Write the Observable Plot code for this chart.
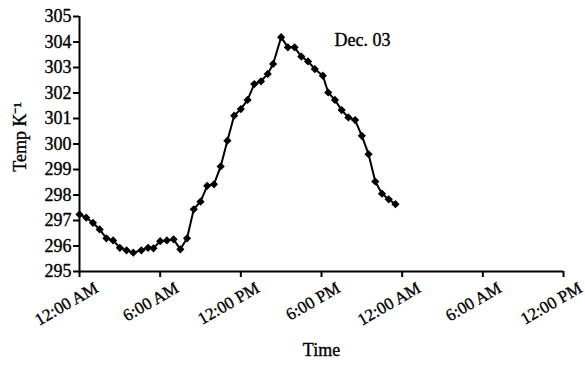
<!DOCTYPE html>
<html>
<head>
<meta charset="utf-8">
<script src="https://cdn.jsdelivr.net/npm/d3@7"></script>
<script src="https://cdn.jsdelivr.net/npm/@observablehq/plot@0.6"></script>
<style>
  html, body { margin: 0; padding: 0; background: #fff; }
  #chart { width: 585px; height: 366px; }
</style>
</head>
<body>
<div id="chart"></div>
<script>
// Hours since midnight (Dec. 03)
const hours = [0, 0.5, 1, 1.5, 2, 2.5, 3, 3.5, 4, 4.6, 5.1, 5.5, 6, 6.5, 7, 7.5, 8, 8.5, 9, 9.5,
  10, 10.5, 11, 11.5, 12, 12.5, 13, 13.5, 14, 14.4, 15, 15.5, 16, 16.5, 17, 17.5, 18.1, 18.5, 19, 19.5,
  20, 20.5, 21, 21.5, 22, 22.5, 23, 23.5];
// Temperature (K)
const temps = [297.24, 297.11, 296.91, 296.65, 296.30, 296.22, 295.93, 295.83, 295.74, 295.83, 295.93, 295.91,
  296.19, 296.22, 296.26, 295.87, 296.30, 297.44, 297.74, 298.36, 298.42, 299.12, 300.13, 301.11,
  301.37, 301.73, 302.35, 302.46, 302.75, 303.14, 304.19, 303.79, 303.79, 303.43, 303.24, 302.94,
  302.68, 302.02, 301.73, 301.33, 301.04, 300.94, 300.32, 299.60, 298.53, 298.05, 297.83, 297.64];

const xTickHours = [0, 6, 12, 18, 24, 30, 36];
const xTickLabels = ["12:00 AM", "6:00 AM", "12:00 PM", "6:00 PM", "12:00 AM", "6:00 AM", "12:00 PM"];
const yTicks = [295, 296, 297, 298, 299, 300, 301, 302, 303, 304, 305];
const xLabel = "Time";
const yLabel = "Temp K\u207B\u00B9";
const title = "Dec. 03";
const titleAt = {hour: 21.05, temp: 304.05};

const data = hours.map((h, i) => ({h, t: temps[i]}));
const xTicks = xTickHours.map((h, i) => ({h, label: xTickLabels[i]}));

const font = "'Liberation Serif', 'Times New Roman', serif";
const txt = {fontSize: 18, fill: "#000", stroke: "#000", strokeWidth: 0.35};

const chart = Plot.plot({
  width: 585,
  height: 366,
  marginLeft: 79,
  marginRight: 22,
  marginTop: 16,
  marginBottom: 95,
  style: {fontFamily: font, fontSize: "18px", color: "#000", background: "#fff"},
  x: {domain: [0, 36]},
  y: {domain: [295, 305]},
  marks: [
    Plot.axisY({ticks: yTicks, tickSize: 6, tickFormat: () => "", label: null, strokeWidth: 2}),
    Plot.text(yTicks, {y: d => d, frameAnchor: "left", textAnchor: "end", dx: -8, ...txt}),
    Plot.axisX({ticks: xTickHours, tickSize: 6, tickFormat: () => "", label: null, strokeWidth: 2}),
    Plot.text(xTicks, {x: "h", text: "label", frameAnchor: "bottom", rotate: -30, textAnchor: "end",
      lineAnchor: "middle", dx: 17, dy: 15, ...txt, fontSize: 17}),
    Plot.ruleX([0], {y1: 295, y2: 305, strokeWidth: 2}),
    Plot.ruleY([295], {x1: 0, x2: 36, strokeWidth: 2}),
    Plot.line(data, {x: "h", y: "t", stroke: "#000", strokeWidth: 2}),
    Plot.dot(data, {x: "h", y: "t", symbol: "diamond2", r: 3.7, fill: "#000", stroke: "none"}),
    Plot.text([title], {x: () => titleAt.hour, y: () => titleAt.temp, ...txt}),
    Plot.text([yLabel], {frameAnchor: "left", textAnchor: "middle", rotate: -90, dx: -59, dy: -7, ...txt}),
    Plot.text([xLabel], {frameAnchor: "bottom", dy: 84, ...txt})
  ]
});
document.getElementById("chart").appendChild(chart);
</script>
</body>
</html>
